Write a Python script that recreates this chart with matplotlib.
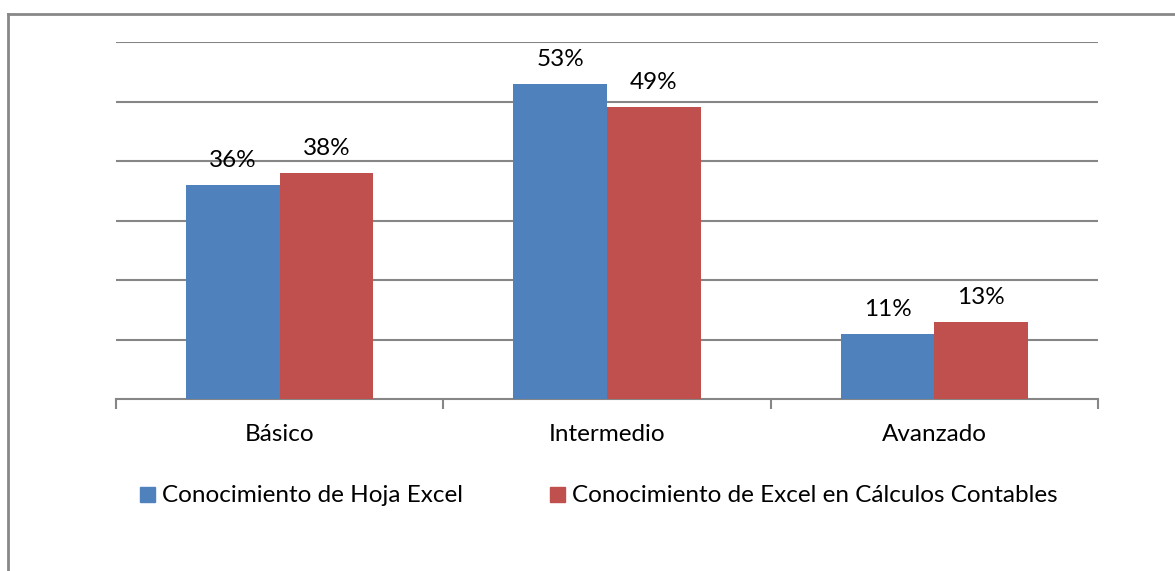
import matplotlib
matplotlib.use("Agg")
import matplotlib.pyplot as plt
import numpy as np
from matplotlib.patches import Rectangle
from matplotlib.lines import Line2D

categories = ["Básico", "Intermedio", "Avanzado"]
series_names = ["Conocimiento de Hoja Excel", "Conocimiento de Excel en Cálculos Contables"]
hoja_excel = [36, 53, 11]
calculos = [38, 49, 13]
colors = ["#4F81BD", "#C0504D"]

plt.rcParams['font.family'] = ['Lato', 'DejaVu Sans']
FS = 17.5

W, H = 1175, 571
fig = plt.figure(figsize=(W / 100, H / 100), dpi=100)

def fx(px):
    return px / W

def fy(py):
    return 1 - py / H

PX = 0.72  # points per pixel at 100 dpi

ax = fig.add_axes([fx(116), fy(399), fx(1098) - fx(116), fy(42) - fy(399)])

n = len(categories)
x = np.arange(n)
bw = 0.2857
for i, (vals, c) in enumerate(zip([hoja_excel, calculos], colors)):
    offs = (i - 0.5) * bw
    ax.bar(x + offs, vals, width=bw, color=c, edgecolor='none', zorder=3)
    for xi, v in zip(x + offs, vals):
        ax.annotate(f"{v}%", (xi, v), xytext=(0, 18 * PX), textcoords='offset points',
                    ha='center', va='baseline', fontsize=FS, color='black')

ax.set_xlim(-0.5, n - 0.5)
ax.set_ylim(0, 60)
ax.set_yticks(np.arange(10, 61, 10))
ax.yaxis.grid(True, color='#868686', linewidth=1.5, zorder=0)
ax.tick_params(axis='y', left=False, labelleft=False)
for s in ['top', 'right', 'left']:
    ax.spines[s].set_visible(False)
ax.spines['bottom'].set_color('#868686')
ax.spines['bottom'].set_linewidth(1.5)
ax.set_xticks([-0.5, 0.5, 1.5, 2.5])
ax.set_xticklabels([])
ax.tick_params(axis='x', length=7, width=1.5, color='#868686', direction='out')
for xi, lab in zip(x, categories):
    ax.annotate(lab, (xi, 0), xytext=(0, -42 * PX), textcoords='offset points',
                ha='center', va='baseline', fontsize=FS, color='black')

# legend (manual, Excel-style)
legend_x = [140, 550]
for lx, name, c in zip(legend_x, series_names, colors):
    fig.add_artist(Rectangle((fx(lx), fy(502)), 15 / W, 15 / H,
                             transform=fig.transFigure, color=c))
    fig.text(fx(lx + 22), fy(502), name, ha='left', va='baseline', fontsize=FS, color='black')

# border
fig.add_artist(Line2D([fx(8), fx(8)], [fy(14), 0], color='#888888', linewidth=2))
fig.add_artist(Line2D([fx(8), 1], [fy(14), fy(14)], color='#888888', linewidth=2))

fig.savefig("out.png", dpi=100)
